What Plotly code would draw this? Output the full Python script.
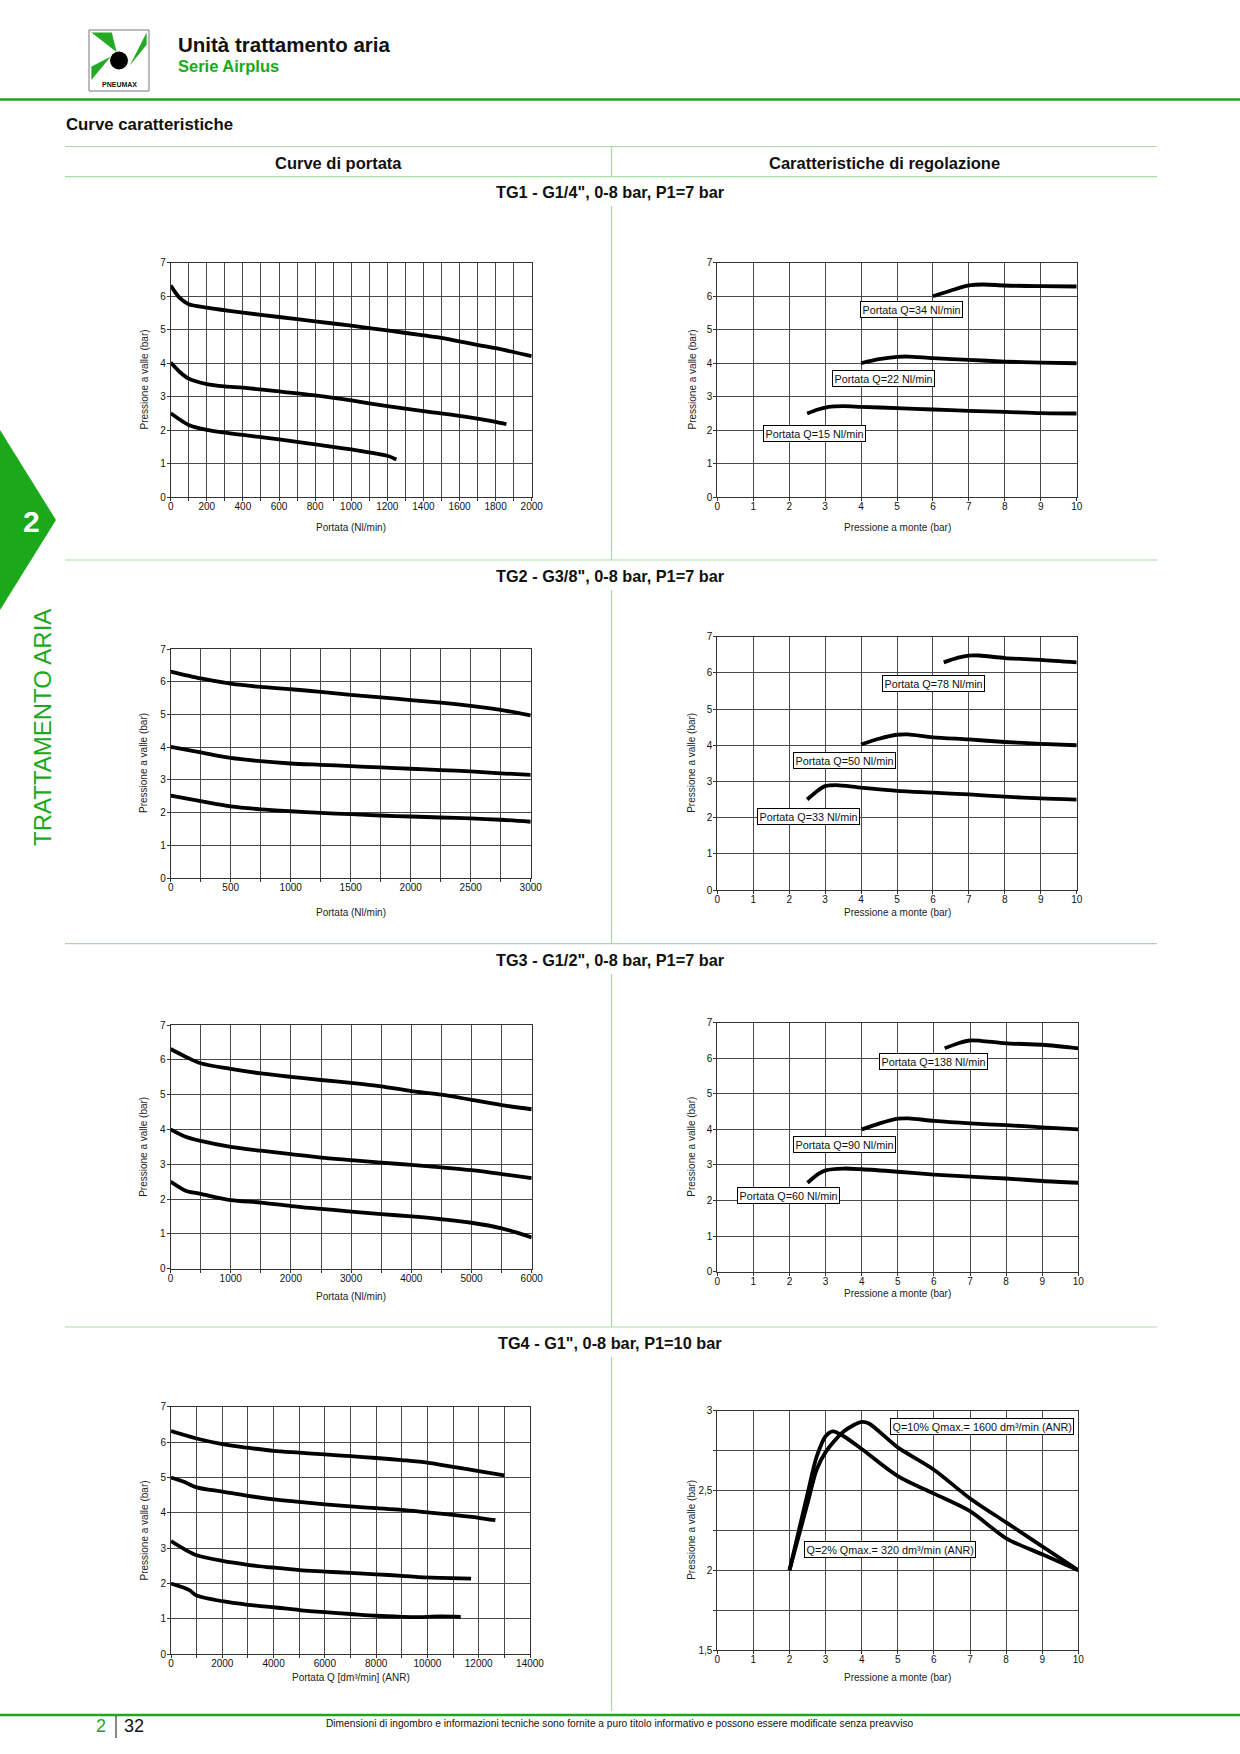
import plotly.graph_objects as go

W, H = 1240, 1754
GREEN = "#1ba81b"
LIGHT_GREEN = "#a6dba6"
FONT = "Liberation Sans, Arial, sans-serif"

# ---------------- DATA ----------------
# TG1 - flow curves (x: Nl/min, y: bar)
tg1_flow_x_a = [0, 50, 100, 200, 400, 600, 800, 1000, 1200, 1400, 1500, 1600, 1800, 2000]
tg1_flow_y_a = [6.32, 5.95, 5.76, 5.66, 5.51, 5.38, 5.25, 5.12, 4.98, 4.83, 4.76, 4.65, 4.45, 4.21]
tg1_flow_x_b = [0, 50, 100, 200, 300, 400, 600, 800, 1000, 1200, 1400, 1600, 1800, 1860]
tg1_flow_y_b = [4.02, 3.74, 3.54, 3.38, 3.31, 3.27, 3.16, 3.04, 2.89, 2.72, 2.57, 2.43, 2.25, 2.18]
tg1_flow_x_c = [0, 100, 200, 400, 600, 800, 1000, 1200, 1250]
tg1_flow_y_c = [2.51, 2.16, 2.01, 1.86, 1.73, 1.58, 1.43, 1.24, 1.13]

# TG1 - regulation curves (x: upstream bar, y: downstream bar)
tg1_reg_x_a = [6.0, 6.5, 7.0, 7.4, 8, 9, 10]
tg1_reg_y_a = [6.0, 6.17, 6.32, 6.35, 6.32, 6.3, 6.29]
tg1_reg_x_b = [4.0, 4.5, 5.0, 5.3, 6, 7, 8, 9, 10]
tg1_reg_y_b = [4.0, 4.12, 4.19, 4.2, 4.15, 4.1, 4.05, 4.02, 4.0]
tg1_reg_x_c = [2.5, 2.8, 3.1, 3.5, 4, 5, 6, 7, 8, 9, 10]
tg1_reg_y_c = [2.5, 2.62, 2.7, 2.72, 2.7, 2.66, 2.62, 2.58, 2.55, 2.51, 2.5]
tg1_reg_labels = ["Portata Q=34 Nl/min", "Portata Q=22 Nl/min", "Portata Q=15 Nl/min"]

# TG2
tg2_flow_x = [0, 250, 500, 750, 1000, 1250, 1500, 1750, 2000, 2250, 2500, 2750, 3000]
tg2_flow_y_a = [6.31, 6.1, 5.94, 5.84, 5.77, 5.69, 5.6, 5.52, 5.44, 5.36, 5.26, 5.14, 4.97]
tg2_flow_y_b = [4.01, 3.84, 3.67, 3.57, 3.5, 3.46, 3.42, 3.38, 3.34, 3.3, 3.26, 3.2, 3.15]
tg2_flow_y_c = [2.52, 2.35, 2.19, 2.1, 2.04, 1.99, 1.95, 1.91, 1.88, 1.85, 1.82, 1.78, 1.72]

tg2_reg_x_a = [6.3, 6.7, 7.0, 7.3, 8, 9, 10]
tg2_reg_y_a = [6.29, 6.42, 6.48, 6.48, 6.41, 6.36, 6.29]
tg2_reg_x_b = [4.0, 4.5, 5.0, 5.3, 6, 7, 8, 9, 10]
tg2_reg_y_b = [4.02, 4.18, 4.29, 4.3, 4.22, 4.16, 4.09, 4.04, 4.0]
tg2_reg_x_c = [2.5, 2.8, 3.0, 3.3, 4, 5, 6, 7, 8, 9, 10]
tg2_reg_y_c = [2.5, 2.75, 2.87, 2.9, 2.83, 2.74, 2.69, 2.64, 2.58, 2.53, 2.5]
tg2_reg_labels = ["Portata Q=78 Nl/min", "Portata Q=50 Nl/min", "Portata Q=33 Nl/min"]

# TG3
tg3_flow_x = [0, 250, 500, 1000, 1500, 2000, 2500, 3000, 3500, 4000, 4500, 5000, 5500, 6000]
tg3_flow_y_a = [6.31, 6.09, 5.9, 5.74, 5.61, 5.51, 5.42, 5.34, 5.24, 5.1, 5.0, 4.85, 4.7, 4.58]
tg3_flow_y_b = [4.0, 3.79, 3.67, 3.5, 3.39, 3.29, 3.19, 3.12, 3.05, 2.98, 2.91, 2.83, 2.72, 2.6]
tg3_flow_y_c = [2.5, 2.24, 2.15, 1.97, 1.9, 1.8, 1.72, 1.64, 1.57, 1.5, 1.42, 1.32, 1.16, 0.9]

tg3_reg_x_a = [6.3, 6.7, 7.0, 7.3, 8, 9, 10]
tg3_reg_y_a = [6.28, 6.43, 6.5, 6.49, 6.42, 6.38, 6.28]
tg3_reg_x_b = [4.0, 4.5, 5.0, 5.3, 6, 7, 8, 9, 10]
tg3_reg_y_b = [4.0, 4.17, 4.3, 4.31, 4.24, 4.17, 4.12, 4.06, 4.0]
tg3_reg_x_c = [2.5, 2.8, 3.0, 3.5, 4, 5, 6, 7, 8, 9, 10]
tg3_reg_y_c = [2.5, 2.75, 2.85, 2.9, 2.88, 2.81, 2.73, 2.67, 2.62, 2.55, 2.5]
tg3_reg_labels = ["Portata Q=138 Nl/min", "Portata Q=90 Nl/min", "Portata Q=60 Nl/min"]

# TG4
tg4_flow_x_a = [0, 1000, 2000, 3000, 4000, 5000, 6000, 7000, 8000, 9000, 10000, 11000, 12000, 13000]
tg4_flow_y_a = [6.31, 6.1, 5.94, 5.84, 5.75, 5.7, 5.65, 5.6, 5.55, 5.49, 5.42, 5.3, 5.18, 5.06]
tg4_flow_x_b = [0, 500, 1000, 2000, 3000, 4000, 5000, 6000, 7000, 8000, 9000, 10000, 11000, 12000, 12650]
tg4_flow_y_b = [5.0, 4.88, 4.72, 4.6, 4.48, 4.38, 4.31, 4.24, 4.18, 4.13, 4.08, 4.01, 3.94, 3.86, 3.79]
tg4_flow_x_c = [0, 500, 1000, 2000, 3000, 4000, 5000, 6000, 7000, 8000, 9000, 9700, 10500, 11700]
tg4_flow_y_c = [3.2, 2.98, 2.8, 2.64, 2.53, 2.45, 2.38, 2.34, 2.3, 2.26, 2.22, 2.18, 2.16, 2.14]
tg4_flow_x_d = [0, 700, 1000, 2000, 3000, 4000, 5000, 6000, 7000, 8000, 9000, 9500, 10500, 11300]
tg4_flow_y_d = [2.0, 1.82, 1.66, 1.5, 1.4, 1.33, 1.25, 1.19, 1.14, 1.09, 1.06, 1.05, 1.07, 1.06]

tg4_reg_x_a = [2.0, 2.5, 2.75, 3.0, 3.2, 3.5, 4, 5, 6, 7, 8, 9, 10]
tg4_reg_y_a = [2.0, 2.48, 2.71, 2.84, 2.87, 2.84, 2.76, 2.59, 2.48, 2.37, 2.2, 2.1, 2.0]
tg4_reg_x_b = [2.0, 2.5, 2.75, 3.0, 3.5, 4.0, 4.2, 5, 6, 7, 8, 9, 10]
tg4_reg_y_b = [2.0, 2.42, 2.63, 2.74, 2.87, 2.93, 2.92, 2.77, 2.63, 2.45, 2.3, 2.15, 2.0]
tg4_reg_labels = ["Q=10% Qmax.= 1600 dm³/min (ANR)", "Q=2% Qmax.= 320 dm³/min (ANR)"]

# axis tick definitions
flow1_ticks = list(range(0, 2001, 100))
flow2_ticks = list(range(0, 3001, 250))
flow3_ticks = list(range(0, 6001, 500))
flow4_ticks = list(range(0, 14001, 1000))
reg_ticks = list(range(0, 11))
p_ticks = list(range(0, 8))
p4_ticks = [1.5, 1.75, 2.0, 2.25, 2.5, 2.75, 3.0]
p4_tick_text = ["1,5", "", "2", "", "2,5", "", "3"]

section_titles = ['TG1 - G1/4", 0-8 bar, P1=7 bar', 'TG2 - G3/8", 0-8 bar, P1=7 bar',
                  'TG3 - G1/2", 0-8 bar, P1=7 bar', 'TG4 - G1", 0-8 bar, P1=10 bar']


def lbl(vals, step):
    return [str(v) if v % step == 0 else "" for v in vals]


# ---------------- PANELS (layout) ----------------
panels = [
    dict(box=(170.7, 262.7, 531.7, 497.3), xr=[0, 2000], xt=flow1_ticks, xtt=lbl(flow1_ticks, 200),
         yr=[0, 7], yt=p_ticks, ytt=[str(v) for v in p_ticks],
         curves=[(tg1_flow_x_a, tg1_flow_y_a), (tg1_flow_x_b, tg1_flow_y_b), (tg1_flow_x_c, tg1_flow_y_c)],
         xtitle="Portata (Nl/min)", xty=527.5, ytx=143.5, labels=[]),
    dict(box=(717.3, 262.7, 1076.7, 497.3), xr=[0, 10], xt=reg_ticks, xtt=[str(v) for v in reg_ticks],
         yr=[0, 7], yt=p_ticks, ytt=[str(v) for v in p_ticks],
         curves=[(tg1_reg_x_a, tg1_reg_y_a), (tg1_reg_x_b, tg1_reg_y_b), (tg1_reg_x_c, tg1_reg_y_c)],
         xtitle="Pressione a monte (bar)", xty=527.5, ytx=691.5,
         labels=list(zip(tg1_reg_labels, [3.97, 3.19, 1.26], [5.59, 3.53, 1.91]))),
    dict(box=(170.7, 649, 530.7, 878), xr=[0, 3000], xt=flow2_ticks, xtt=lbl(flow2_ticks, 500),
         yr=[0, 7], yt=p_ticks, ytt=[str(v) for v in p_ticks],
         curves=[(tg2_flow_x, tg2_flow_y_a), (tg2_flow_x, tg2_flow_y_b), (tg2_flow_x, tg2_flow_y_c)],
         xtitle="Portata (Nl/min)", xty=912.5, ytx=143.5, labels=[]),
    dict(box=(717.3, 636.7, 1076.7, 890), xr=[0, 10], xt=reg_ticks, xtt=[str(v) for v in reg_ticks],
         yr=[0, 7], yt=p_ticks, ytt=[str(v) for v in p_ticks],
         curves=[(tg2_reg_x_a, tg2_reg_y_a), (tg2_reg_x_b, tg2_reg_y_b), (tg2_reg_x_c, tg2_reg_y_c)],
         xtitle="Pressione a monte (bar)", xty=912.5, ytx=691.5,
         labels=list(zip(tg2_reg_labels, [4.57, 2.11, 1.11], [5.72, 3.57, 2.03]))),
    dict(box=(170.5, 1025, 531.7, 1268.7), xr=[0, 6000], xt=flow3_ticks, xtt=lbl(flow3_ticks, 1000),
         yr=[0, 7], yt=p_ticks, ytt=[str(v) for v in p_ticks],
         curves=[(tg3_flow_x, tg3_flow_y_a), (tg3_flow_x, tg3_flow_y_b), (tg3_flow_x, tg3_flow_y_c)],
         xtitle="Portata (Nl/min)", xty=1296, ytx=144, labels=[]),
    dict(box=(717.3, 1022.7, 1078.3, 1271.7), xr=[0, 10], xt=reg_ticks, xtt=[str(v) for v in reg_ticks],
         yr=[0, 7], yt=p_ticks, ytt=[str(v) for v in p_ticks],
         curves=[(tg3_reg_x_a, tg3_reg_y_a), (tg3_reg_x_b, tg3_reg_y_b), (tg3_reg_x_c, tg3_reg_y_c)],
         xtitle="Pressione a monte (bar)", xty=1293, ytx=691.5,
         labels=list(zip(tg3_reg_labels, [4.48, 2.09, 0.55], [5.90, 3.58, 2.14]))),
    dict(box=(171, 1406.7, 530, 1654.3), xr=[0, 14000], xt=flow4_ticks, xtt=lbl(flow4_ticks, 2000),
         yr=[0, 7], yt=p_ticks, ytt=[str(v) for v in p_ticks],
         curves=[(tg4_flow_x_a, tg4_flow_y_a), (tg4_flow_x_b, tg4_flow_y_b),
                 (tg4_flow_x_c, tg4_flow_y_c), (tg4_flow_x_d, tg4_flow_y_d)],
         xtitle="Portata Q [dm³/min] (ANR)", xty=1677, ytx=144, labels=[]),
    dict(box=(717.3, 1410.7, 1078.3, 1650), xr=[0, 10], xt=reg_ticks, xtt=[str(v) for v in reg_ticks],
         yr=[1.5, 3], yt=p4_ticks, ytt=p4_tick_text,
         curves=[(tg4_reg_x_a, tg4_reg_y_a), (tg4_reg_x_b, tg4_reg_y_b)],
         xtitle="Pressione a monte (bar)", xty=1677, ytx=691.5,
         labels=list(zip(tg4_reg_labels, [4.78, 2.40], [2.902, 2.132]))),
]


def PX(x):
    return x / W


def PY(y):
    return 1 - y / H


fig = go.Figure()
layout = dict(width=W, height=H, autosize=False, margin=dict(l=0, r=0, t=0, b=0, pad=0, autoexpand=False),
              paper_bgcolor="white", plot_bgcolor="white", showlegend=False,
              font=dict(family=FONT, color="#111", size=10))
annotations = []
shapes = []

for i, p in enumerate(panels, start=1):
    sx = "" if i == 1 else str(i)
    x0, y0, x1, y1 = p["box"]
    axstyle = dict(showline=True, mirror=True, linecolor="#333", linewidth=1,
                   showgrid=True, gridcolor="#4a4a4a", gridwidth=1, zeroline=False,
                   ticks="outside", ticklen=3, tickwidth=1, tickcolor="#333", automargin=False,
                   tickfont=dict(family=FONT, size=10, color="#111"), fixedrange=True)
    layout["xaxis" + sx] = dict(domain=[PX(x0), PX(x1)], range=p["xr"], tickmode="array",
                                tickvals=p["xt"], ticktext=p["xtt"], anchor="y" + sx,
                                ticklabelstandoff=-3, **axstyle)
    layout["yaxis" + sx] = dict(domain=[PY(y1), PY(y0)], range=p["yr"], tickmode="array",
                                tickvals=p["yt"], ticktext=p["ytt"], anchor="x" + sx,
                                ticklabelstandoff=-1, **axstyle)
    for cx, cy in p["curves"]:
        fig.add_trace(go.Scatter(x=cx, y=cy, mode="lines", xaxis="x" + sx, yaxis="y" + sx,
                                 line=dict(color="black", width=3.8, shape="spline", smoothing=0.8),
                                 hoverinfo="skip"))
    annotations.append(dict(text=p["xtitle"], x=PX((x0 + x1) / 2), y=PY(p["xty"]), xref="paper",
                            yref="paper", showarrow=False, xanchor="center", yanchor="middle",
                            font=dict(size=10, color="#222")))
    annotations.append(dict(text="Pressione a valle (bar)", x=PX(p["ytx"]), y=PY((y0 + y1) / 2),
                            xref="paper", yref="paper", showarrow=False, textangle=-90,
                            xanchor="center", yanchor="middle", font=dict(size=10, color="#222")))
    for txt_, lx, ly in p["labels"]:
        annotations.append(dict(text=txt_, x=lx, y=ly, xref="x" + sx, yref="y" + sx, showarrow=False,
                                xanchor="left", yanchor="middle", bgcolor="white",
                                bordercolor="black", borderwidth=1, borderpad=1.5,
                                font=dict(size=10.8, color="#111")))


def hline(y, xa, xb, color, width):
    shapes.append(dict(type="line", xref="paper", yref="paper", x0=PX(xa), x1=PX(xb),
                       y0=PY(y), y1=PY(y), line=dict(color=color, width=width)))


def vline(x, ya, yb, color, width):
    shapes.append(dict(type="line", xref="paper", yref="paper", x0=PX(x), x1=PX(x),
                       y0=PY(ya), y1=PY(yb), line=dict(color=color, width=width)))


def txt(t, x, y, size, color="#111", bold=False, xanchor="center", angle=0, family=FONT):
    annotations.append(dict(text=("<b>%s</b>" % t) if bold else t, x=PX(x), y=PY(y),
                            xref="paper", yref="paper", showarrow=False, xanchor=xanchor,
                            yanchor="middle", textangle=angle,
                            font=dict(size=size, color=color, family=family)))


def path(pts):
    return "M " + " L ".join("%f,%f" % (PX(a), PY(b)) for a, b in pts) + " Z"


# header
hline(99.5, 0, W, GREEN, 2.5)
txt("Unità trattamento aria", 176, 45, 20.5, "#111", True, "left")
txt("Serie Airplus", 176, 66, 16.5, GREEN, True, "left")
txt("Curve caratteristiche", 64, 125, 16.8, "#111", True, "left")
hline(146.5, 65, 1157, LIGHT_GREEN, 1.2)
hline(176.7, 65, 1157, LIGHT_GREEN, 1.2)
vline(611.5, 146.5, 176.7, LIGHT_GREEN, 1.2)
txt("Curve di portata", 338, 163, 16.5, "#111", True)
txt("Caratteristiche di regolazione", 884, 163, 16.5, "#111", True)

# section titles, separators
title_y = [192, 576, 959.5, 1343]
for t, ty in zip(section_titles, title_y):
    txt(t, 610, ty, 16.3, "#111", True)
for sy in [560, 943.7, 1327]:
    hline(sy, 65, 1157, LIGHT_GREEN, 1.2)
for ya, yb in [(206, 560), (590, 943.7), (974, 1327), (1357, 1711)]:
    vline(611.5, ya, yb, LIGHT_GREEN, 1.2)

# logo
LX, LY, LW, LH = 89, 30, 60, 61


def L(u, v):
    return (LX + u * LW, LY + v * LH)


shapes.append(dict(type="rect", xref="paper", yref="paper", x0=PX(LX), x1=PX(LX + LW),
                   y0=PY(LY + LH), y1=PY(LY), line=dict(color="#777", width=1), fillcolor="white"))
for blade in [[L(0.04, 0.04), L(0.38, 0.04), L(0.46, 0.36)],
              [L(0.96, 0.04), L(0.96, 0.24), L(0.68, 0.58)],
              [L(0.04, 0.82), L(0.04, 0.60), L(0.36, 0.44)]]:
    shapes.append(dict(type="path", xref="paper", yref="paper", path=path(blade),
                       fillcolor="#22aa22", line=dict(width=0)))
cx, cy = L(0.5, 0.5)
shapes.append(dict(type="circle", xref="paper", yref="paper", x0=PX(cx - 9), x1=PX(cx + 9),
                   y0=PY(cy + 9), y1=PY(cy - 9), fillcolor="black", line=dict(width=0)))
txt("PNEUMAX", LX + LW / 2, LY + LH - 6, 7, "#111", True)

# side tab
shapes.append(dict(type="path", xref="paper", yref="paper",
                   path=path([(0, 430), (56, 520), (0, 610)]), fillcolor=GREEN, line=dict(width=0)))
txt("2", 31, 521, 30, "white", True)
txt("TRATTAMENTO ARIA", 42, 728, 24, GREEN, False, "center", -90)

# footer
hline(1715, 0, W, GREEN, 2.5)
txt("2", 101, 1726, 18, GREEN)
vline(116, 1716, 1738, "#111", 1)
txt("32", 134, 1726, 18, "#111")
txt("Dimensioni di ingombro e informazioni tecniche sono fornite a puro titolo informativo e possono essere modificate senza preavviso",
    620, 1723, 10.2, "#111")

layout["annotations"] = annotations
layout["shapes"] = shapes
fig.update_layout(**layout)
fig.write_html(
    "out.html",
    config={"responsive": False, "displayModeBar": False},
    post_script="document.documentElement.style.margin='0';document.body.style.margin='0';"
                "document.body.style.padding='0';document.documentElement.style.overflow='hidden';"
                "document.body.style.overflow='hidden';",
)
